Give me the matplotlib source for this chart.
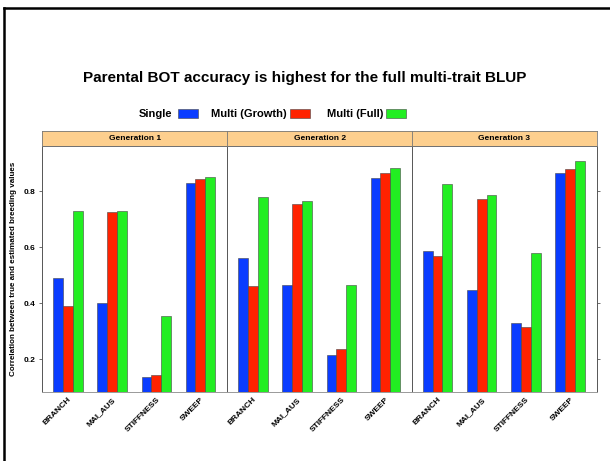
import numpy as np
import matplotlib
matplotlib.use('Agg')
import matplotlib.pyplot as plt
from matplotlib.patches import Rectangle
from matplotlib.lines import Line2D

plt.rcParams['font.family'] = ['Liberation Sans', 'DejaVu Sans']

# data
traits = ['BRANCH', 'MAI_AUS', 'STIFFNESS', 'SWEEP']
generations = ['Generation 1', 'Generation 2', 'Generation 3']
methods = ['Single', 'Multi (Growth)', 'Multi (Full)']
colours = ['#0A3CFF', '#FF2200', '#22EE22']

single = [[0.490, 0.402, 0.137, 0.829],
          [0.563, 0.465, 0.215, 0.848],
          [0.588, 0.449, 0.329, 0.865]]
multi_growth = [[0.390, 0.725, 0.142, 0.843],
                [0.463, 0.755, 0.235, 0.867],
                [0.568, 0.773, 0.315, 0.881]]
multi_full = [[0.730, 0.730, 0.354, 0.852],
              [0.781, 0.767, 0.467, 0.885],
              [0.827, 0.787, 0.581, 0.908]]
series = [single, multi_growth, multi_full]

yticks = [0.2, 0.4, 0.6, 0.8]
ylim = (0.083, 0.962)

W, H = 610, 461
fig = plt.figure(figsize=(W / 100, H / 100), dpi=100)

def fx(px):
    return px / W

def fy(py):
    return 1 - py / H

# outer frame (left + top lines)
fig.add_artist(Line2D([fx(4.3), fx(4.3)], [fy(461), fy(8.5)], color='black', lw=1.8))
fig.add_artist(Line2D([fx(4.3), fx(610)], [fy(8.5), fy(8.5)], color='black', lw=1.8))

fig.text(0.5, fy(78), 'Parental BOT accuracy is highest for the full multi-trait BLUP',
         ha='center', va='center', fontsize=11, fontweight='bold')

# legend, laid out like the lattice key
leg = [(172, 178), (287, 290), (383, 386)]
for (txt_r, box_l), name, c in zip(leg, methods, colours):
    fig.text(fx(txt_r), fy(113.5), name, ha='right', va='center',
             fontsize=8, fontweight='bold')
    fig.add_artist(Rectangle((fx(box_l), fy(118.5)), fx(20), 9.5 / H,
                             facecolor=c, edgecolor='#444444', lw=0.4))

panel_l = [42, 227, 411.5]
panel_w = 185.3
p_top, p_bot = 146, 392
s_top = 131
x = np.arange(1, len(traits) + 1)
bw = 0.223

for g, gen in enumerate(generations):
    ax = fig.add_axes([fx(panel_l[g]), fy(p_bot), fx(panel_w), (p_bot - p_top) / H])
    for k in range(3):
        ax.bar(x + (k - 1) * bw, series[k][g], width=bw, bottom=0,
               color=colours[k], edgecolor='#444444', lw=0.4, zorder=2)
    ax.set_xlim(0.41, 4.61)
    ax.set_ylim(*ylim)
    ax.set_xticks(x)
    ax.set_xticklabels(traits, rotation=45, ha='right', va='top',
                       rotation_mode='anchor', fontsize=6, fontweight='bold')
    ax.tick_params(axis='x', length=0, pad=3)
    ax.set_yticks(yticks)
    if g == 0:
        ax.set_yticklabels([f'{v:.1f}' for v in yticks], fontsize=6, fontweight='bold')
        ax.tick_params(axis='y', length=2.5, width=0.6, color='#555555', pad=2)
        ax.set_ylabel('Correlation between true and estimated breeding values',
                      fontsize=5.8, fontweight='bold', labelpad=5)
    elif g == 2:
        ax.yaxis.tick_right()
        ax.tick_params(axis='y', length=2.5, width=0.6, color='#555555', labelright=False)
    else:
        ax.tick_params(axis='y', length=0, labelleft=False)
    for sp in ax.spines.values():
        sp.set_color('#555555')
        sp.set_linewidth(0.7)
    ax.spines['bottom'].set_color('#999999')

    # strip
    sax = fig.add_axes([fx(panel_l[g]), fy(p_top), fx(panel_w), (p_top - s_top) / H])
    sax.set_facecolor('#FDCF8E')
    sax.set_xticks([])
    sax.set_yticks([])
    for sp in sax.spines.values():
        sp.set_color('#777777')
        sp.set_linewidth(0.6)
    sax.text(0.5, 0.5, gen, transform=sax.transAxes, ha='center', va='center',
             fontsize=6, fontweight='bold')

fig.savefig('out.png', dpi=100)
